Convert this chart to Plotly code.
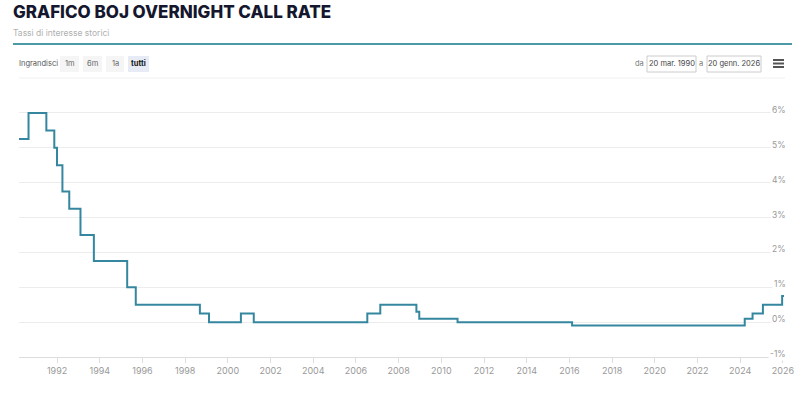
import plotly.graph_objects as go

# ---- data ----
change_dates = ["1990-03-20", "1990-08-30", "1991-07-01", "1991-11-14", "1991-12-30",
                "1992-04-01", "1992-07-27", "1993-02-04", "1993-09-21", "1995-04-14",
                "1995-09-08", "1998-09-09", "1999-02-12", "2000-08-11", "2001-03-19",
                "2006-07-14", "2007-02-21", "2008-10-31", "2008-12-19", "2010-10-05",
                "2016-02-16", "2024-03-19", "2024-07-31", "2025-01-24", "2025-12-19",
                "2026-01-20"]
rates = [5.25, 6.0, 5.5, 5.0, 4.5,
         3.75, 3.25, 2.5, 1.75, 1.0,
         0.5, 0.25, 0.0, 0.25, 0.0,
         0.25, 0.5, 0.3, 0.1, 0.0,
         -0.1, 0.1, 0.25, 0.5, 0.75,
         0.75]
x_tick_years = list(range(1992, 2027, 2))
x_tick_labels = [str(y) for y in x_tick_years]
y_tick_vals = [-1, 0, 1, 2, 3, 4, 5, 6]
y_tick_labels = ["-1%", "0%", "1%", "2%", "3%", "4%", "5%", "6%"]
range_buttons = ["1m", "6m", "1a", "tutti"]

# body margin is removed (post_script), so figure px == page px
W, H = 803, 392
PLOT_LEFT, PLOT_RIGHT, PLOT_TOP, PLOT_BOTTOM = 19, 784, 99, 357
L, R, T, B = PLOT_LEFT, W - PLOT_RIGHT, PLOT_TOP, H - PLOT_BOTTOM
PW = W - L - R
PH = H - T - B


def px(x):
    return (x - L) / PW


def py(y):
    return (H - B - y) / PH


LINE_COLOR = "#34879f"
FONT = "Inter, Roboto, sans-serif"

fig = go.Figure()
fig.add_trace(go.Scatter(
    x=change_dates, y=rates, mode="lines", line_shape="hv",
    line=dict(color=LINE_COLOR, width=2), hoverinfo="x+y", showlegend=False,
))

fig.update_layout(
    width=W, height=H, autosize=False,
    margin=dict(l=L, r=R, t=T, b=B, autoexpand=False),
    paper_bgcolor="white", plot_bgcolor="white",
    font=dict(family=FONT, size=9, color="#999999"),
    xaxis=dict(
        type="date",
        range=["1990-03-20", "2026-01-20"],
        tickmode="array",
        tickvals=[f"{y}-01-01" for y in x_tick_years],
        ticktext=x_tick_labels,
        showgrid=False, zeroline=False,
        showline=True, linecolor="#dddddd", linewidth=1,
        ticks="outside", ticklen=5, tickcolor="#dddddd",
        tickfont=dict(size=9, color="#999999"),
        ticklabeloverflow="allow",
        automargin=False,
        fixedrange=True,
    ),
    yaxis=dict(
        range=[-1, 6.4],
        tickvals=y_tick_vals,
        showticklabels=False,
        showgrid=True, gridcolor="#ececec", gridwidth=1,
        zeroline=False, showline=False, ticks="",
        automargin=False,
        fixedrange=True,
    ),
)

shapes = []
annotations = []

# y tick labels (right side, just above their grid lines)
for v, t in zip(y_tick_vals, y_tick_labels):
    annotations.append(dict(
        x=1, y=v, xref="paper", yref="y", xanchor="right", yanchor="middle",
        xshift=4, yshift=3, text=t, showarrow=False, bgcolor="white",
        font=dict(family=FONT, size=8.5, color="#999999"),
    ))

# Title and subtitle
annotations.append(dict(
    x=px(11), y=py(12), xref="paper", yref="paper", xanchor="left", yanchor="middle",
    text="GRAFICO BOJ OVERNIGHT CALL RATE", showarrow=False,
    font=dict(family=FONT, size=17, color="#15172e", weight=800),
))
annotations.append(dict(
    x=px(11), y=py(32.5), xref="paper", yref="paper", xanchor="left", yanchor="middle",
    text="Tassi di interesse storici", showarrow=False,
    font=dict(family=FONT, size=8.5, color="#b0b0b0"),
))
# teal separator
shapes.append(dict(type="line", xref="paper", yref="paper",
                   x0=px(13), x1=px(792), y0=py(44), y1=py(44),
                   line=dict(color="#4b9aa6", width=2)))

# toolbar
annotations.append(dict(
    x=px(17), y=py(64), xref="paper", yref="paper", xanchor="left", yanchor="middle",
    text="Ingrandisci", showarrow=False, font=dict(family=FONT, size=7.5, color="#555555"),
))
btn_x = [(60, 79), (83, 102), (106, 124), (128, 149)]
for label, (x0, x1) in zip(range_buttons, btn_x):
    sel = label == "tutti"
    shapes.append(dict(type="rect", xref="paper", yref="paper",
                       x0=px(x0), x1=px(x1), y0=py(56), y1=py(72),
                       fillcolor="#e6ebf5" if sel else "#f5f5f5",
                       line=dict(width=0), layer="below"))
    annotations.append(dict(
        x=px((x0 + x1) / 2), y=py(64), xref="paper", yref="paper",
        xanchor="center", yanchor="middle", text=label, showarrow=False,
        font=dict(family=FONT, size=7.5, color="#111111" if sel else "#666666",
                  weight=700 if sel else 400),
    ))

# date range inputs
annotations.append(dict(
    x=px(639), y=py(64), xref="paper", yref="paper", xanchor="center", yanchor="middle",
    text="da", showarrow=False, font=dict(family=FONT, size=7.5, color="#777777"),
))
annotations.append(dict(
    x=px(701), y=py(64), xref="paper", yref="paper", xanchor="center", yanchor="middle",
    text="a", showarrow=False, font=dict(family=FONT, size=7.5, color="#777777"),
))
for txt, (x0, x1) in [("20 mar. 1990", (647, 696)), ("20 genn. 2026", (707, 761))]:
    shapes.append(dict(type="rect", xref="paper", yref="paper",
                       x0=px(x0), x1=px(x1), y0=py(56), y1=py(72),
                       fillcolor="white", line=dict(color="#cccccc", width=1)))
    annotations.append(dict(
        x=px((x0 + x1) / 2), y=py(64), xref="paper", yref="paper",
        xanchor="center", yanchor="middle", text=txt, showarrow=False,
        font=dict(family=FONT, size=7.5, color="#444444"),
    ))
# hamburger icon
for yy in (60, 63.5, 67):
    shapes.append(dict(type="line", xref="paper", yref="paper",
                       x0=px(773), x1=px(784), y0=py(yy), y1=py(yy),
                       line=dict(color="#555555", width=2)))
# faint line below toolbar
shapes.append(dict(type="line", xref="paper", yref="paper",
                   x0=px(19), x1=px(785), y0=py(78), y1=py(78),
                   line=dict(color="#f0f0f0", width=1)))

fig.update_layout(shapes=shapes, annotations=annotations)
fig.write_html(
    "out.html",
    config={"displayModeBar": False, "responsive": False},
    post_script="document.body.style.margin='0';document.body.style.overflow='hidden';",
)
